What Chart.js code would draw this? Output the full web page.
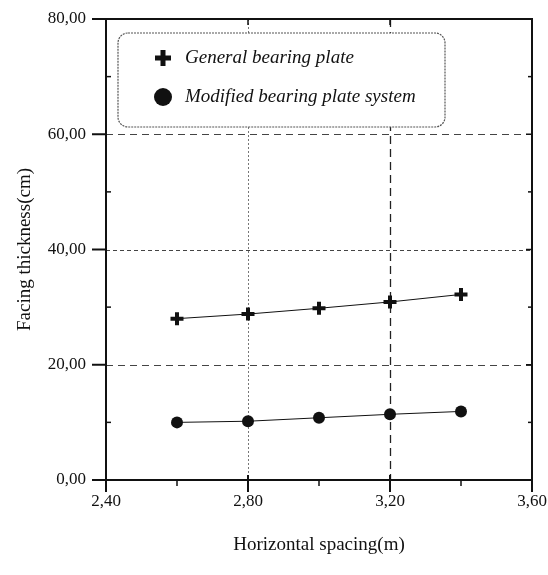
<!DOCTYPE html>
<html>
<head>
<meta charset="utf-8">
<script src="https://cdn.jsdelivr.net/npm/chart.js@4.4.0/dist/chart.umd.min.js"></script>
<style>
html,body{margin:0;padding:0;background:#fff;}
#wrap{width:548px;height:575px;position:relative;}
</style>
</head>
<body>
<div id="wrap"><canvas id="c" width="548" height="575"></canvas></div>
<script>
// ---- data ----
const spacing = [2.6, 2.8, 3.0, 3.2, 3.4];
const generalPlate = [28.0, 28.8, 29.8, 30.9, 32.2];
const modifiedPlate = [10.0, 10.2, 10.8, 11.4, 11.9];
const seriesNames = ['General bearing plate', 'Modified bearing plate system'];
const xMajor = [2.4, 2.8, 3.2, 3.6];
const xTickLabels = ['2,40', '2,80', '3,20', '3,60'];
const xMinor = [2.6, 3.0, 3.4];
const yMajor = [0, 20, 40, 60, 80];
const yTickLabels = ['0,00', '20,00', '40,00', '60,00', '80,00'];
const yMinor = [10, 30, 50, 70];
const xTitle = 'Horizontal spacing(m)';
const yTitle = 'Facing thickness(cm)';

const INK = '#111';
const SERIF = "'Liberation Serif', 'DejaVu Serif', serif";

function pts(ys){ return spacing.map((x,i)=>({x:x, y:ys[i]})); }

const framePlugin = {
  id: 'frame',
  beforeDatasetsDraw(chart){
    const {ctx, chartArea:a, scales:{x, y}} = chart;
    ctx.save();
    // horizontal grid lines
    const hDash = {20:[7,5], 40:[4,3], 60:[7,5]};
    [20,40,60].forEach(v=>{
      const py = Math.round(y.getPixelForValue(v))+0.5;
      ctx.beginPath(); ctx.setLineDash(hDash[v]); ctx.strokeStyle='#444'; ctx.lineWidth=1;
      ctx.moveTo(a.left, py); ctx.lineTo(a.right, py); ctx.stroke();
    });
    // vertical grid lines
    const vDash = {2.8:[2,2], 3.2:[8,5]};
    [2.8, 3.2].forEach(v=>{
      const px = Math.round(x.getPixelForValue(v))+0.5;
      ctx.beginPath(); ctx.setLineDash(vDash[v]); ctx.strokeStyle = v===2.8 ? '#777' : '#222'; ctx.lineWidth = v===2.8?1:1.3;
      ctx.moveTo(px, a.top); ctx.lineTo(px, a.bottom); ctx.stroke();
    });
    ctx.setLineDash([]);
    // frame
    ctx.strokeStyle = INK; ctx.lineWidth = 2;
    ctx.strokeRect(a.left, a.top, a.right-a.left, a.bottom-a.top);
    // y ticks
    ctx.lineWidth = 2;
    yMajor.forEach(v=>{
      const py = y.getPixelForValue(v);
      ctx.beginPath(); ctx.moveTo(a.left-14, py); ctx.lineTo(a.left, py); ctx.stroke();
    });
    ctx.lineWidth = 1.5;
    yMinor.forEach(v=>{
      const py = y.getPixelForValue(v);
      ctx.beginPath(); ctx.moveTo(a.left, py); ctx.lineTo(a.left+5, py); ctx.stroke();
      ctx.beginPath(); ctx.moveTo(a.right, py); ctx.lineTo(a.right-4, py); ctx.stroke();
    });
    [20,40,60].forEach(v=>{
      const py = y.getPixelForValue(v);
      ctx.beginPath(); ctx.moveTo(a.right, py); ctx.lineTo(a.right-6, py); ctx.stroke();
    });
    // x ticks
    ctx.lineWidth = 2;
    xMajor.forEach(v=>{
      const px = x.getPixelForValue(v);
      ctx.beginPath(); ctx.moveTo(px, a.bottom-5); ctx.lineTo(px, a.bottom+12); ctx.stroke();
    });
    ctx.lineWidth = 1.5;
    xMinor.forEach(v=>{
      const px = x.getPixelForValue(v);
      ctx.beginPath(); ctx.moveTo(px, a.bottom); ctx.lineTo(px, a.bottom+6); ctx.stroke();
    });
    [2.8,3.2].forEach(v=>{
      const px = x.getPixelForValue(v);
      ctx.beginPath(); ctx.moveTo(px, a.top); ctx.lineTo(px, a.top+6); ctx.stroke();
    });
    ctx.restore();
  },
  afterDraw(chart){
    const {ctx, chartArea:a} = chart;
    ctx.save();
    const bx = a.left + 12, by = a.top + 14, bw = 327, bh = 94;
    ctx.beginPath();
    ctx.roundRect(bx, by, bw, bh, 10);
    ctx.fillStyle = '#fff'; ctx.fill();
    ctx.setLineDash([2,1]); ctx.strokeStyle = '#555'; ctx.lineWidth = 1.2; ctx.stroke();
    ctx.setLineDash([]);
    // entries
    const mx = bx + 45;
    const rows = [by + 25, by + 64];
    // plus
    ctx.strokeStyle = INK; ctx.lineWidth = 5; ctx.lineCap = 'butt';
    ctx.beginPath();
    ctx.moveTo(mx-8, rows[0]); ctx.lineTo(mx+8, rows[0]);
    ctx.moveTo(mx, rows[0]-8); ctx.lineTo(mx, rows[0]+8);
    ctx.stroke();
    // circle
    ctx.fillStyle = INK;
    ctx.beginPath(); ctx.arc(mx, rows[1], 9, 0, Math.PI*2); ctx.fill();
    ctx.font = "italic 19px " + SERIF;
    ctx.textBaseline = 'middle'; ctx.textAlign = 'left';
    ctx.fillText(chart.data.datasets[0].label, mx + 22, rows[0]);
    ctx.fillText(chart.data.datasets[1].label, mx + 22, rows[1]);
    ctx.restore();
  }
};

new Chart(document.getElementById('c'), {
  type: 'scatter',
  data: {
    datasets: [
      {label: seriesNames[0], data: pts(generalPlate), showLine: true,
       borderColor: INK, backgroundColor: INK, borderWidth: 1,
       pointStyle: 'cross', pointRadius: 6.5, pointBorderWidth: 4, pointHoverRadius: 6.5},
      {label: seriesNames[1], data: pts(modifiedPlate), showLine: true,
       borderColor: INK, backgroundColor: INK, borderWidth: 1,
       pointStyle: 'circle', pointRadius: 6, pointBorderWidth: 0, pointHoverRadius: 6}
    ]
  },
  options: {
    responsive: false,
    animation: false,
    layout: {padding: {left: 0, right: 16, top: 19, bottom: 0}},
    plugins: {legend: {display: false}, tooltip: {enabled: false}},
    scales: {
      x: {
        type: 'linear', min: 2.4, max: 3.6,
        grid: {display: false, drawTicks: false},
        border: {display: false},
        ticks: {
          stepSize: 0.2, autoSkip: false, maxRotation: 0, padding: 11,
          color: INK, font: {family: SERIF, size: 17},
          callback: (v) => { const i = xMajor.findIndex(m => Math.abs(m - v) < 1e-6); return i >= 0 ? xTickLabels[i] : ''; }
        },
        title: {display: true, text: xTitle, color: INK, font: {family: SERIF, size: 19}, padding: {top: 0, bottom: 19}},
        afterFit(s){ s.height = 95; s.paddingLeft = 0; s.paddingRight = 0; }
      },
      y: {
        type: 'linear', min: 0, max: 80,
        grid: {display: false, drawTicks: false},
        border: {display: false},
        ticks: {
          stepSize: 10, autoSkip: false, padding: 20,
          color: INK, font: {family: SERIF, size: 17},
          callback: (v) => { const i = yMajor.indexOf(v); return i >= 0 ? yTickLabels[i] : ''; }
        },
        title: {display: true, text: yTitle, color: INK, font: {family: SERIF, size: 19}, padding: {top: 14, bottom: 0}},
        afterFit(s){ s.width = 106; s.paddingTop = 0; s.paddingBottom = 0; }
      }
    }
  },
  plugins: [framePlugin]
});
</script>
</body>
</html>
